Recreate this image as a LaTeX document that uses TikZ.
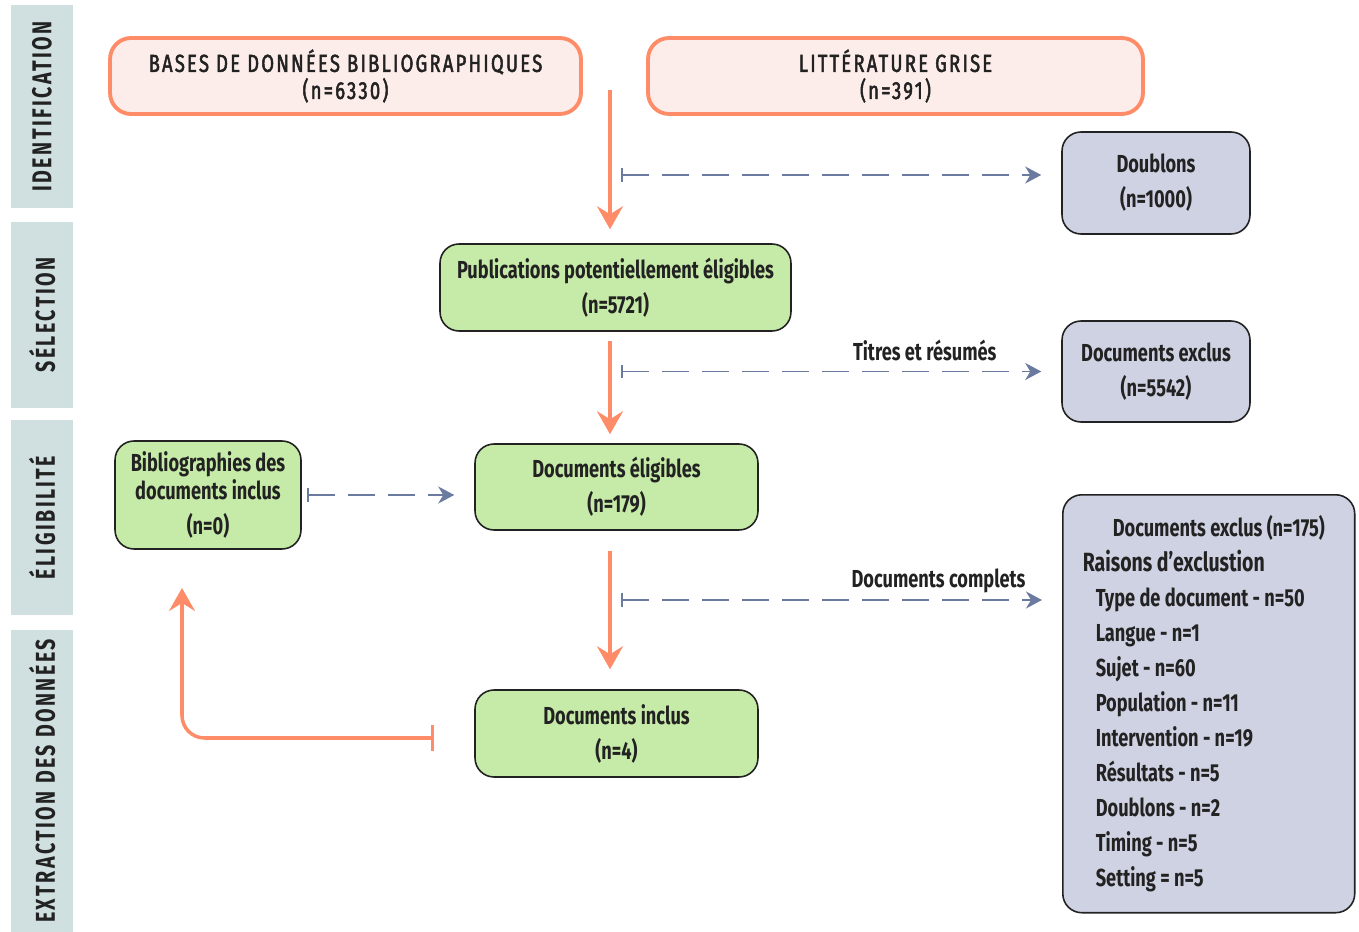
\documentclass[tikz,border=0pt]{standalone}
\usepackage{fontspec}
\setmainfont{Fira Sans}[FakeStretch=0.74]
\newfontfamily\topfam{Fira Sans}[FakeStretch=0.75, LetterSpace=9, FakeBold=2]
\newfontfamily\bandfam{Fira Sans}[FakeStretch=0.72, LetterSpace=9]
\usetikzlibrary{calc, arrows.meta, positioning}
\definecolor{sal}{HTML}{FF8C69}
\definecolor{pk}{HTML}{FDEDEA}
\definecolor{gr}{HTML}{C6EAA7}
\definecolor{lv}{HTML}{CFD2E2}
\definecolor{bd}{HTML}{D0DFE0}
\definecolor{dk}{HTML}{222222}
\definecolor{sl}{HTML}{6B7BA0}
\newcommand{\boxfont}{\bfseries\fontsize{14}{19.9}\selectfont}

\begin{document}
\begin{tikzpicture}[x=0.02cm, y=-0.02cm,
    band/.style={fill=bd, rotate=90, minimum height=1.26cm, inner sep=0pt, text=dk, font={\bandfam\bfseries\fontsize{15.5}{17}\selectfont}},
    topbox/.style={draw=sal, fill=pk, line width=2.2pt, rounded corners=0.42cm, align=center, text=dk, font={\topfam\fontsize{14}{15.4}\selectfont}},
    grnbox/.style={draw=dk, fill=gr, line width=0.9pt, rounded corners=0.38cm, align=center, text=dk, font=\boxfont},
    lavbox/.style={draw=dk, fill=lv, line width=0.9pt, rounded corners=0.38cm, align=center, text=dk, font=\boxfont},
    lbl/.style={text=dk, font=\boxfont, inner sep=1pt},
    orarr/.style={draw=sal, line width=2pt, -{Stealth[length=0.46cm, width=0.52cm, inset=0.16cm]}},
    dasharr/.style={draw=sl, line width=1.1pt, dash pattern=on 0.53cm off 0.27cm, {Bar[width=0.28cm]}-{Stealth[length=0.32cm, width=0.34cm, inset=0.1cm]}}
]
    \useasboundingbox (0,0) rectangle (1359,932);

    % phases
    \node[band, minimum width=4.06cm] (idf) at (42,106.5) {IDENTIFICATION};
    \node[band, minimum width=3.72cm] (sel) at (42,315) {SÉLECTION};
    \node[band, minimum width=3.9cm] (eli) at (42,517.5) {ÉLIGIBILITÉ};
    \node[band, minimum width=6.04cm] (ext) at (42,781) {EXTRACTION DES DONNÉES};

    % sources
    \node[topbox, minimum width=9.42cm, minimum height=1.52cm] (bases) at (345.5,76) {BASES DE DONNÉES BIBLIOGRAPHIQUES\\(n=6330)};
    \node[topbox, minimum width=9.9cm, minimum height=1.52cm] (litt) at (895.5,76) {LITTÉRATURE GRISE\\(n=391)};

    % main flow
    \node[grnbox, minimum width=7.02cm, minimum height=1.74cm] (pub) at (615.5,287.5) {Publications potentiellement éligibles\\(n=5721)};
    \node[grnbox, minimum width=5.66cm, minimum height=1.72cm] (elig) at (616.5,487) {Documents éligibles\\(n=179)};
    \node[grnbox, minimum width=5.66cm, minimum height=1.74cm] (incl) at (616.5,733.5) {Documents inclus\\(n=4)};
    \node[grnbox, minimum width=3.72cm, minimum height=2.16cm, inner sep=2pt] (bib) at (208,495) {Bibliographies des\\[-4pt]documents inclus\\(n=0)};

    % exclusions
    \node[lavbox, minimum width=3.76cm, minimum height=2.04cm] (doub) at (1156,183) {Doublons\\(n=1000)};
    \node[lavbox, minimum width=3.76cm, minimum height=2.02cm] (exc1) at (1156,371.5) {Documents exclus\\(n=5542)};
    \node[lavbox, anchor=north west, minimum width=5.84cm, minimum height=8.36cm, text width=5.04cm, align=left, inner sep=0.4cm] (exc2) at (1062,494) {%
        \spaceskip=0pt\xspaceskip=0pt
        \hspace*{0.6cm}Documents exclus (n=175)\\
        {\fontsize{15}{19.9}\selectfont Raisons d’exclustion}\\
        \hspace*{0.26cm}Type de document - n=50\\
        \hspace*{0.26cm}Langue - n=1\\
        \hspace*{0.26cm}Sujet - n=60\\
        \hspace*{0.26cm}Population - n=11\\
        \hspace*{0.26cm}Intervention - n=19\\
        \hspace*{0.26cm}Résultats - n=5\\
        \hspace*{0.26cm}Doublons - n=2\\
        \hspace*{0.26cm}Timing - n=5\\
        \hspace*{0.26cm}Setting = n=5};

    \coordinate (src) at (610,90);
    \coordinate (d1) at (621,175);
    \coordinate (d2) at (621,371.5);
    \coordinate (d3) at (621,600);
    \coordinate (up) at (182,588);

    % flow arrows
    \draw[orarr, shorten >=0.28cm] (src) -- (src |- pub.north);
    \draw[orarr, shorten <=0.18cm, shorten >=0.18cm] (pub.south -| src) -- (elig.north -| src);
    \draw[orarr, shorten <=0.4cm, shorten >=0.4cm] (elig.south -| src) -- (incl.north -| src);
    \draw[draw=sal, line width=2pt, {Bar[width=0.52cm]}-{Stealth[length=0.46cm, width=0.52cm, inset=0.16cm]}, rounded corners=0.45cm, shorten <=0.8cm] ($(incl.west)+(0,4.5)$) -| (up);

    % exclusion arrows
    \draw[dasharr, shorten >=0.4cm] (d1) -- (d1 -| doub.west);
    \draw[dasharr, shorten >=0.4cm] (d2) -- (d2 -| exc1.west) node[lbl, pos=0.69, above=0.16cm] (tr) {Titres et résumés};
    \draw[dasharr, shorten >=0.4cm] (d3) -- (d3 -| exc2.west) node[lbl, pos=0.72, above=0.09cm] (dc) {Documents complets};
    \draw[dasharr, shorten <=0.1cm, shorten >=0.4cm] (bib.east) -- (bib.east -| elig.west);
\end{tikzpicture}
\end{document}
